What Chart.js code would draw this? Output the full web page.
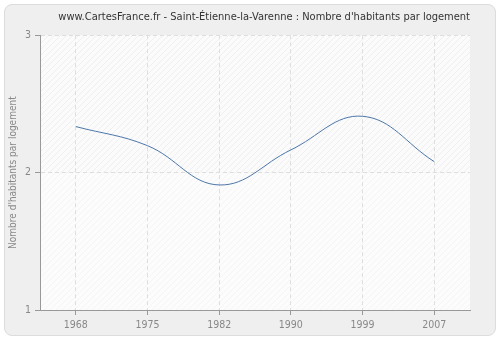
<!DOCTYPE html>
<html>
<head>
<meta charset="utf-8">
<script src="https://cdn.jsdelivr.net/npm/chart.js@4/dist/chart.umd.min.js"></script>
<style>
  html, body { margin: 0; padding: 0; background: #ffffff; }
  #panel {
    position: absolute; left: 4px; top: 4px; width: 490px; height: 330px;
    background: #efefef; border: 1px solid #dcdcdc; border-radius: 8px;
  }
  #wrap { position: absolute; left: 0; top: 0; width: 500px; height: 340px; }
</style>
</head>
<body>
<div id="panel"></div>
<div id="wrap"><canvas id="chart" width="500" height="340"></canvas></div>
<script>
// données
const years = ["1968", "1975", "1982", "1990", "1999", "2007"];
const habitantsParLogement = [2.335, 2.196, 1.91, 2.165, 2.41, 2.08];
const yTicks = [1, 2, 3];

const font = "'DejaVu Sans Condensed', 'DejaVu Sans', sans-serif";

// fond hachuré de la zone de tracé
function makeHatch(bg, line) {
    const c = document.createElement("canvas");
    c.width = 6; c.height = 6;
    const g = c.getContext("2d");
    g.fillStyle = bg;
    g.fillRect(0, 0, 6, 6);
    g.strokeStyle = line;
    g.lineWidth = 1;
    g.beginPath();
    g.moveTo(0, 6); g.lineTo(6, 0);
    g.moveTo(-1, 1); g.lineTo(1, -1);
    g.moveTo(5, 7); g.lineTo(7, 5);
    g.stroke();
    return c;
}

const plotBackground = {
    id: "plotBackground",
    beforeDraw(chart) {
        const { ctx, chartArea: a, scales } = chart;
        const mid = scales.y.getPixelForValue(2);
        ctx.save();
        ctx.fillStyle = ctx.createPattern(makeHatch("#fbfbfb", "#efefef"), "repeat");
        ctx.fillRect(a.left, a.top, a.right - a.left, mid - a.top);
        ctx.fillStyle = ctx.createPattern(makeHatch("#fcfcfc", "#f5f5f5"), "repeat");
        ctx.fillRect(a.left, mid, a.right - a.left, a.bottom - mid);
        ctx.restore();
    }
};

const ctx = document.getElementById("chart").getContext("2d");
new Chart(ctx, {
    type: "line",
    data: {
        labels: years,
        datasets: [{
            data: habitantsParLogement,
            borderColor: "#4d77aa",
            borderWidth: 1,
            pointRadius: 0,
            fill: false,
            tension: 0.4
        }]
    },
    options: {
        responsive: false,
        animation: false,
        layout: { padding: { left: 0, right: 30, top: 0, bottom: 0 } },
        plugins: {
            legend: { display: false },
            tooltip: { enabled: false },
            title: {
                display: true,
                text: "www.CartesFrance.fr - Saint-Étienne-la-Varenne : Nombre d'habitants par logement",
                align: "end",
                color: "#333333",
                font: { family: font, size: 11, weight: "normal" },
                padding: { top: 11, bottom: 11 }
            }
        },
        scales: {
            x: {
                type: "category",
                offset: true,
                grid: {
                    offset: false,
                    color: "#dedede",
                    tickColor: "#999999",
                    tickLength: 5
                },
                border: { color: "#999999", dash: [4, 3] },
                ticks: { color: "#888888", font: { family: font, size: 10.5 }, padding: 4 },
                afterFit(s) { s.height = 30; }
            },
            y: {
                min: 1,
                max: 3,
                afterBuildTicks(s) { s.ticks = yTicks.map(v => ({ value: v })); },
                grid: {
                    color: "#dedede",
                    tickColor: "#999999",
                    tickLength: 5
                },
                border: { color: "#999999", dash: [4, 3] },
                ticks: { color: "#888888", font: { family: font, size: 10.5 }, padding: 4 },
                title: {
                    display: true,
                    text: "Nombre d'habitants par logement",
                    color: "#888888",
                    font: { family: font, size: 10 },
                    padding: { top: 7, bottom: 0 }
                },
                afterFit(s) { s.width = 40; }
            }
        }
    },
    plugins: [plotBackground]
});
</script>
</body>
</html>
